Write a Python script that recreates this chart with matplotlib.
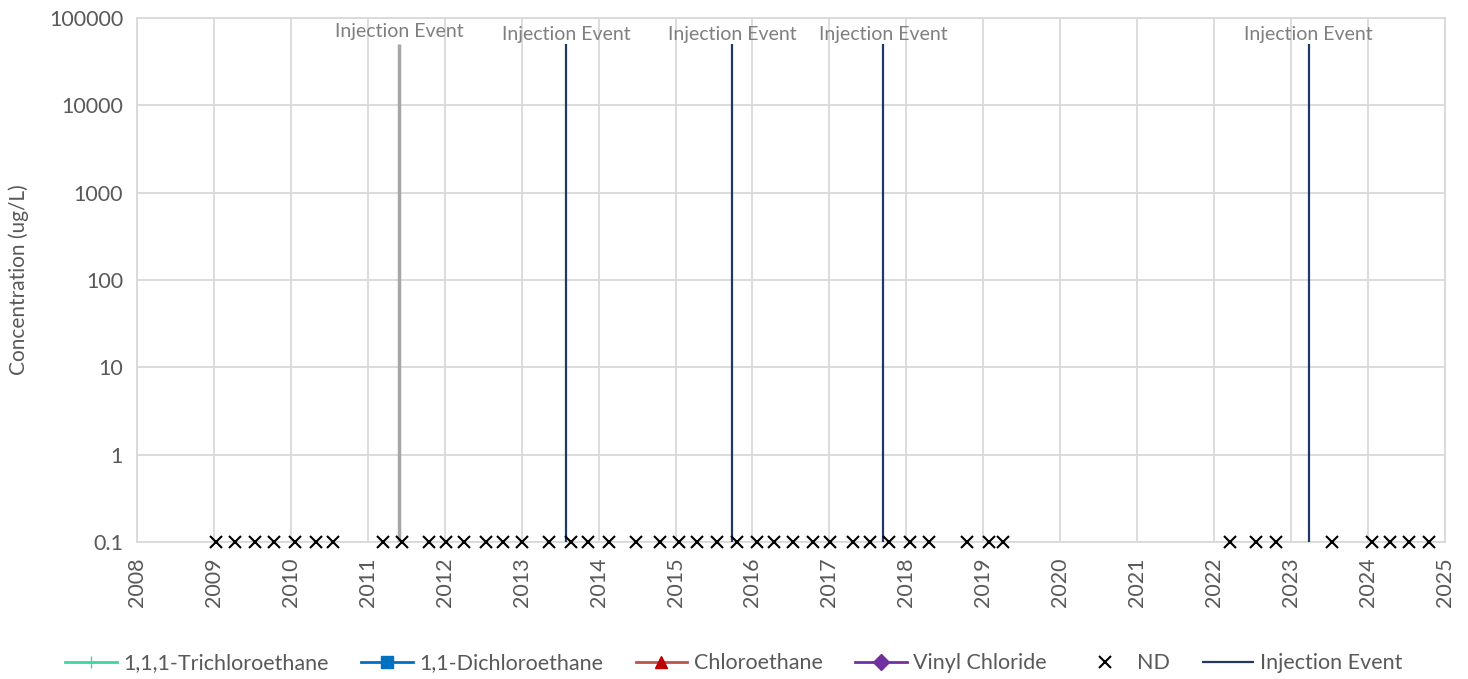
import matplotlib.pyplot as plt
import numpy as np

plt.rcParams["font.family"] = ["Lato", "DejaVu Sans"]

# non-detect sampling dates (decimal years), plotted at the reporting floor
nd_dates = [2009.03, 2009.27, 2009.53, 2009.78, 2010.05, 2010.33, 2010.55,
            2011.20, 2011.45, 2011.80, 2012.02, 2012.25, 2012.54, 2012.76,
            2013.01, 2013.36, 2013.64, 2013.86, 2014.14, 2014.48, 2014.80,
            2015.04, 2015.28, 2015.54, 2015.80, 2016.06, 2016.28, 2016.53,
            2016.79, 2017.01, 2017.31, 2017.53, 2017.78, 2018.05, 2018.29,
            2018.79, 2019.07, 2019.25, 2022.20, 2022.55, 2022.80, 2023.53,
            2024.05, 2024.29, 2024.53, 2024.79]
nd_values = [0.1] * len(nd_dates)

injection_dates = [2011.41, 2013.58, 2015.74, 2017.70, 2023.23]
injection_top = 50000
injection_colors = ["#a6a6a6", "#1f3864", "#1f3864", "#1f3864", "#1f3864"]

# analyte series (no detections in this well)
series = {
    "1,1,1-Trichloroethane": ([], [], "#3ed6a0", "+", "#3ed6a0"),
    "1,1-Dichloroethane": ([], [], "#0070c0", "s", "#0070c0"),
    "Chloroethane": ([], [], "#c0504d", "^", "#c00000"),
    "Vinyl Chloride": ([], [], "#7030a0", "D", "#7030a0"),
}

txt = "#595959"
grid = "#d9d9d9"

fig = plt.figure(figsize=(14.68, 6.79), dpi=100)
ax = fig.add_axes([0.0933, 0.2018, 0.891, 0.7717])

for name, (xs, ys, c, m, mc) in series.items():
    ax.plot(xs, ys, color=c, marker=m, markerfacecolor=mc, markeredgecolor=mc,
            markersize=8, lw=2, label=name)

ax.plot(nd_dates, nd_values, ls="none", marker="x", color="black",
        markersize=8, mew=1.5, label="ND", zorder=4, clip_on=False)

for i, (d, c) in enumerate(zip(injection_dates, injection_colors)):
    ax.vlines(d, 0.1, injection_top, color=c, lw=2.5 if i == 0 else 1.6,
              label="Injection Event" if i == 1 else None, zorder=3)
    ax.annotate("Injection Event", (d, injection_top), xytext=(0, 3 if i == 0 else 1),
                textcoords="offset points", ha="center", va="bottom",
                fontsize=14, color="#7f7f7f")

ax.set_yscale("log")
ax.set_ylim(0.1, 100000)
ax.set_xlim(2008, 2025)
ax.set_yticks([0.1, 1, 10, 100, 1000, 10000, 100000])
ax.set_yticklabels(["0.1", "1", "10", "100", "1000", "10000", "100000"])
ax.minorticks_off()
years = np.arange(2008, 2026)
ax.set_xticks(years)
ax.set_xticklabels([str(y) for y in years], rotation=90)
ax.tick_params(axis="both", length=0, labelsize=15.5, labelcolor=txt)
ax.tick_params(axis="x", pad=11)
ax.tick_params(axis="y", pad=10)
ax.grid(True, color=grid, lw=1.3)
ax.set_axisbelow(True)
for s in ax.spines.values():
    s.set_color(grid)
    s.set_linewidth(1.3)

ax.set_ylabel("Concentration (ug/L)", fontsize=15, color=txt, labelpad=14)

fig.legend(loc="lower center", bbox_to_anchor=(0.5, -0.02), ncol=6, frameon=False,
           fontsize=15.5, labelcolor=txt, handlelength=2.4, columnspacing=1.5,
           handletextpad=0.3)

fig.savefig("out.png", dpi=100)
